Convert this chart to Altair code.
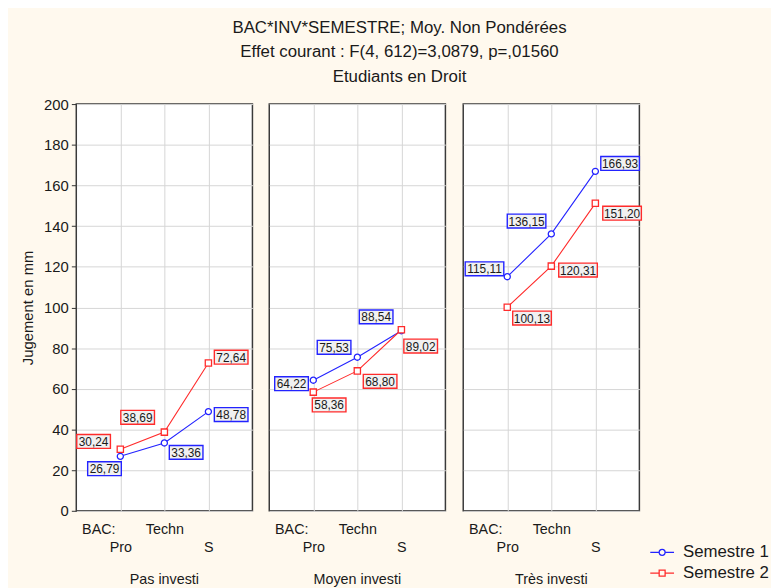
import altair as alt
import pandas as pd

# ---------------- data ----------------
panels = ["Pas investi", "Moyen investi", "Très investi"]
bac_levels = ["Pro", "Techn", "S"]
semesters = ["Semestre 1", "Semestre 2"]

pas_s1 = [26.79, 33.36, 48.78]
pas_s2 = [30.24, 38.69, 72.64]
moyen_s1 = [64.22, 75.53, 88.54]
moyen_s2 = [58.36, 68.80, 89.02]
tres_s1 = [115.11, 136.15, 166.93]
tres_s2 = [100.13, 120.31, 151.20]

y_ticks = [0, 20, 40, 60, 80, 100, 120, 140, 160, 180, 200]
x_axis_labels = ["BAC:", "Pro", "Techn", "S"]

title_lines = [
    "BAC*INV*SEMESTRE; Moy. Non Pondérées",
    "Effet courant : F(4, 612)=3,0879, p=,01560",
    "Etudiants en Droit",
]
y_title = "Jugement en mm"

series = {
    "Pas investi": (pas_s1, pas_s2),
    "Moyen investi": (moyen_s1, moyen_s2),
    "Très investi": (tres_s1, tres_s2),
}

# ---------------- style ----------------
FONT = "Liberation Sans"
TXT = "#1a1a1a"
BLUE = "#2323ff"
RED = "#ff2b2b"
SEM_COLORS = [BLUE, RED]
SEM_SHAPES = ["circle", "square"]
BG = "#FFF9EE"
W, H = 178, 411

# label box offsets (pixels) per panel -> semester -> bac level
label_offsets = [
    [[(-16, 12.5), (22, 9.5), (23, 3)], [(-27, -8), (-27, -15), (23, -6)]],
    [[(-22, 3.5), (-23.5, -10), (-25.5, -14)], [(16, 13), (23, 10.5), (19.5, 16.5)]],
    [[(-23, -8), (-25, -13), (25, -8)], [(25, 11), (27, 4), (27, 10)]],
]

color_scale = alt.Scale(domain=semesters, range=SEM_COLORS)

legend_shapes = [
    "M-1,0L-0.25,0M0.25,0L1,0M0.25,0A0.25,0.25,0,1,1,-0.25,0A0.25,0.25,0,1,1,0.25,0",
    "M-1,0L-0.25,0M0.25,0L1,0M-0.25,-0.25L0.25,-0.25L0.25,0.25L-0.25,0.25Z",
]


def box_path(nchar):
    w = 34 if nchar <= 5 else 39
    h = 14
    return "M-1,-{r}L1,-{r}L1,{r}L-1,{r}Z".format(r=round(h / w, 4)), w * w


def fmt(v):
    return ("%.2f" % v).replace(".", ",")


x_label_expr = (
    "datum.value == 0.5 ? '{0}' : datum.value == 1 ? ['\u00a0', '{1}'] : "
    "datum.value == 2 ? '{2}' : ['\u00a0', '{3}']"
).format(*x_axis_labels)


def make_panel(pi, name):
    s1, s2 = series[name]
    rows = []
    for si, vals in enumerate((s1, s2)):
        for bi, v in enumerate(vals):
            rows.append({"semestre": semesters[si], "bac": bac_levels[bi], "pos": bi + 1,
                         "val": v, "label": fmt(v)})
    df = pd.DataFrame(rows)

    x = alt.X("pos:Q", scale=alt.Scale(domain=[0, 4], nice=False, zero=False),
              axis=alt.Axis(values=[0.5, 1, 2, 3], labelExpr=x_label_expr, title=None,
                            domain=False, ticks=False, grid=True,
                            gridOpacity={"condition": {"test": "datum.value == 0.5", "value": 0}, "value": 1},
                            labelOverlap=False, labelFlush=False, labelBound=False,
                            labelFontSize=14.5, labelLineHeight=18, labelPadding=12,
                            labelColor=TXT, labelFont=FONT))
    if pi == 0:
        yax = alt.Axis(values=y_ticks, title=y_title, domain=False, ticks=True, tickSize=5,
                       tickColor="#333333", tickWidth=1, labelPadding=3, labelFontSize=15,
                       labelColor=TXT, labelFont=FONT, titleFont=FONT, titleFontSize=15,
                       titleFontWeight="normal", titleColor=TXT, titlePadding=8, grid=True)
    else:
        yax = alt.Axis(values=y_ticks, title=None, domain=False, ticks=False, labels=False, grid=True)
    y = alt.Y("val:Q", scale=alt.Scale(domain=[0, 200], nice=False), axis=yax)

    base = alt.Chart(df).encode(x=x, y=y)
    layers = []
    for si, sem in enumerate(semesters):
        sub = base.transform_filter(alt.datum.semestre == sem)
        layers.append(sub.mark_line(strokeWidth=1.1, color=SEM_COLORS[si]))
    for si, sem in enumerate(semesters):
        sub = base.transform_filter(alt.datum.semestre == sem)
        layers.append(sub.mark_point(shape=SEM_SHAPES[si], filled=True, fill="white",
                                     stroke=SEM_COLORS[si], strokeWidth=1.3,
                                     size=38 if si == 0 else 40, opacity=1))
    for si, sem in enumerate(semesters):
        col = SEM_COLORS[si]
        for bi, b in enumerate(bac_levels):
            dx, dy = label_offsets[pi][si][bi]
            lab = df[(df["semestre"] == sem) & (df["bac"] == b)]["label"].iloc[0]
            path, sz = box_path(len(lab))
            sel = base.transform_filter((alt.datum.semestre == sem) & (alt.datum.bac == b))
            layers.append(sel.mark_point(shape=path, size=sz, filled=True, fill="#F1F1F1",
                                         stroke=col, strokeWidth=1.4, opacity=1,
                                         xOffset=dx, yOffset=dy))
            layers.append(sel.mark_text(font=FONT, fontSize=12, color=TXT, align="center",
                                        baseline="middle", xOffset=dx, yOffset=dy + 0.5
                                        ).encode(text="label:N"))
    if pi == 2:
        leg = alt.Legend(title=None, orient="none", legendX=579, legendY=440,
                         symbolSize=576, symbolStrokeWidth=1.3, labelFontSize=17,
                         labelFont=FONT, labelColor=TXT, rowPadding=0, labelOffset=8)
        layers.append(base.transform_filter("false").mark_point(
            filled=False, strokeWidth=1.3, opacity=1).encode(
            color=alt.Color("semestre:N", scale=color_scale, legend=leg),
            shape=alt.Shape("semestre:N", scale=alt.Scale(domain=semesters, range=legend_shapes), legend=leg),
        ))
    return alt.layer(*layers).properties(
        width=W, height=H,
        title=alt.TitleParams(name, orient="bottom", font=FONT, fontSize=14.5,
                              fontWeight="normal", color=TXT, offset=19),
    )


chart = alt.hconcat(*[make_panel(i, n) for i, n in enumerate(panels)], spacing=15).properties(
    title=alt.TitleParams(title_lines, font=FONT, fontSize=17, fontWeight="normal", color=TXT,
                          lineHeight=24.5, anchor="middle", offset=11, dx=5),
    background=BG,
    padding={"left": 12, "top": 8, "right": 2, "bottom": 5},
).configure_view(
    fill="white", stroke="#3a3a3a", strokeWidth=1.5
).configure_axis(gridColor="#d6d6d6", gridWidth=1)

chart.save("out.html", embed_options={"renderer": "svg", "actions": False})
